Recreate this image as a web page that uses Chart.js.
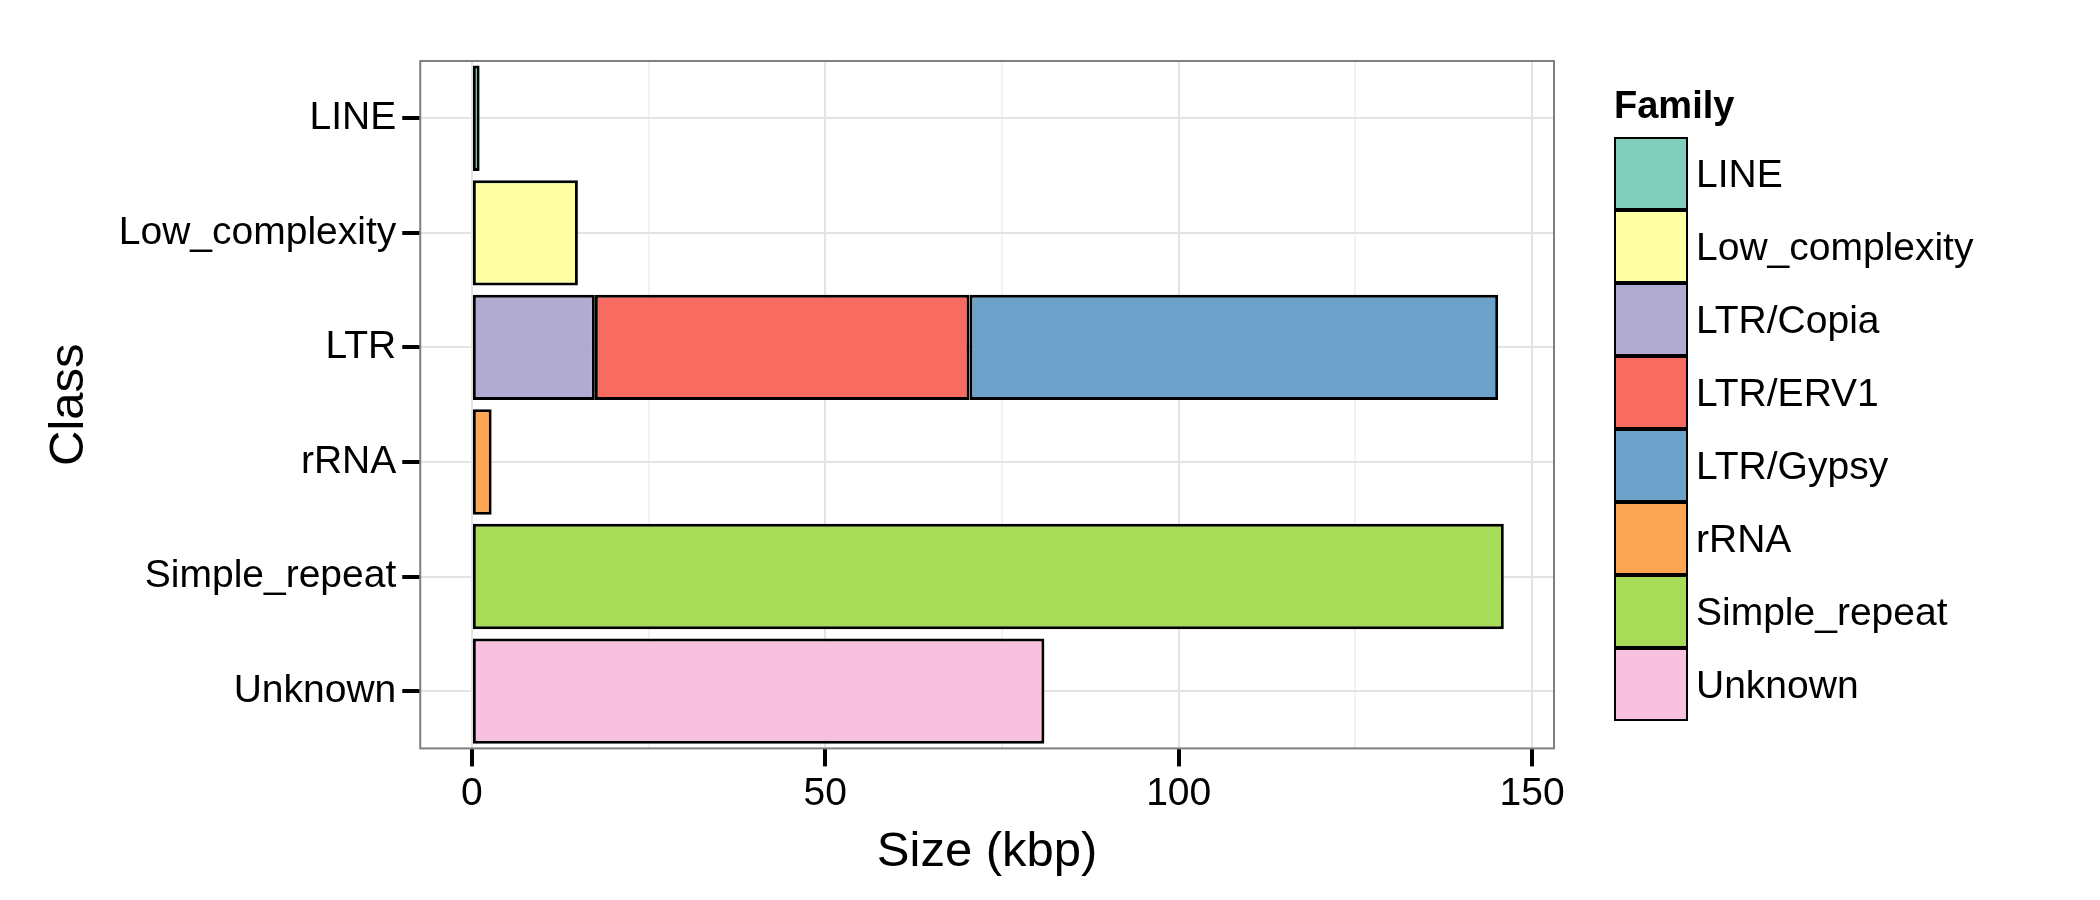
<!DOCTYPE html>
<html>
<head>
<meta charset="utf-8">
<script src="https://cdn.jsdelivr.net/npm/chart.js@4"></script>
<style>
  body { margin: 0; background: #fff; font-family: "Liberation Sans", Arial, sans-serif; }
  #wrap { position: relative; width: 2100px; height: 900px; }
  #legend { position: absolute; left: 1614px; top: 84px; }
  #legend .title { font-weight: bold; font-size: 38px; margin-bottom: 10px; }
  #legend .item { display: flex; align-items: center; height: 73px; }
  #legend .box { width: 74px; height: 73px; border: 2px solid #000; box-sizing: border-box; margin-right: 8px; }
  #legend .label { font-size: 39px; }
</style>
</head>
<body>
<div id="wrap">
  <canvas id="chart" width="2100" height="900"></canvas>
  <div id="legend"></div>
</div>
<script>
// Classes (y axis)
const classes = ['LINE', 'Low_complexity', 'LTR', 'rRNA', 'Simple_repeat', 'Unknown'];

// Families and their colours
const families = ['LINE', 'Low_complexity', 'LTR/Copia', 'LTR/ERV1', 'LTR/Gypsy', 'rRNA', 'Simple_repeat', 'Unknown'];
const familyColors = ['#7fcdbb', '#ffffa3', '#b1abd1', '#f76b61', '#6ca2ca', '#fca653', '#a6dc57', '#f8c1e0'];
const familyClass = ['LINE', 'Low_complexity', 'LTR', 'LTR', 'LTR', 'rRNA', 'Simple_repeat', 'Unknown'];

// Size (kbp) per family
const familySizes = [1.1, 15, 17.4, 53, 74.8, 2.8, 146, 81];

const xTicks = [0, 25, 50, 75, 100, 125, 150];

const datasets = families.map((fam, i) => ({
    label: fam,
    data: classes.map(c => c === familyClass[i] ? familySizes[i] : null),
    backgroundColor: familyColors[i],
    borderColor: '#000',
    borderWidth: 3,
    borderSkipped: false,
    barPercentage: 0.92,
    categoryPercentage: 1
}));

// gray panel border
const panelBorder = {
    id: 'panelBorder',
    afterDraw(chart) {
        const a = chart.chartArea, ctx = chart.ctx;
        ctx.save();
        ctx.strokeStyle = '#7f7f7f';
        ctx.lineWidth = 2;
        ctx.strokeRect(a.left, a.top, a.right - a.left, a.bottom - a.top);
        ctx.restore();
    }
};

new Chart(document.getElementById('chart'), {
    type: 'bar',
    data: { labels: classes, datasets: datasets },
    plugins: [panelBorder],
    options: {
        indexAxis: 'y',
        responsive: false,
        animation: false,
        layout: { padding: { left: 36, right: 546, top: 61, bottom: 14 } },
        plugins: { legend: { display: false }, tooltip: { enabled: false } },
        scales: {
            x: {
                stacked: true,
                min: -7.3,
                max: 153.1,
                afterBuildTicks: axis => { axis.ticks = xTicks.map(v => ({ value: v })); },
                border: { display: false },
                grid: {
                    color: ctx => ctx.tick && ctx.tick.value % 50 === 0 ? '#e3e3e3' : '#f2f2f2',
                    lineWidth: 2,
                    tickColor: ctx => ctx.tick && ctx.tick.value % 50 === 0 ? '#000' : 'rgba(0,0,0,0)',
                    tickLength: 18,
                    tickWidth: 4
                },
                ticks: {
                    color: '#000',
                    font: { size: 39, family: 'Liberation Sans' },
                    padding: 4,
                    callback: v => v % 50 === 0 ? v : ''
                },
                title: {
                    display: true,
                    text: 'Size (kbp)',
                    color: '#000',
                    font: { size: 49, family: 'Liberation Sans' },
                    padding: { top: 2 }
                }
            },
            y: {
                stacked: true,
                border: { display: false },
                grid: {
                    color: '#e3e3e3',
                    lineWidth: 2,
                    offset: false,
                    tickColor: '#000',
                    tickLength: 18,
                    tickWidth: 4
                },
                ticks: {
                    color: '#000',
                    font: { size: 39, family: 'Liberation Sans' },
                    padding: 6
                },
                title: {
                    display: true,
                    text: 'Class',
                    color: '#000',
                    font: { size: 49, family: 'Liberation Sans' },
                    padding: { bottom: 14 }
                }
            }
        }
    }
});

// HTML legend
const legend = document.getElementById('legend');
legend.innerHTML = '<div class="title">Family</div>' + families.map((fam, i) =>
    '<div class="item"><div class="box" style="background:' + familyColors[i] + '"></div><div class="label">' + fam + '</div></div>'
).join('');
</script>
</body>
</html>
